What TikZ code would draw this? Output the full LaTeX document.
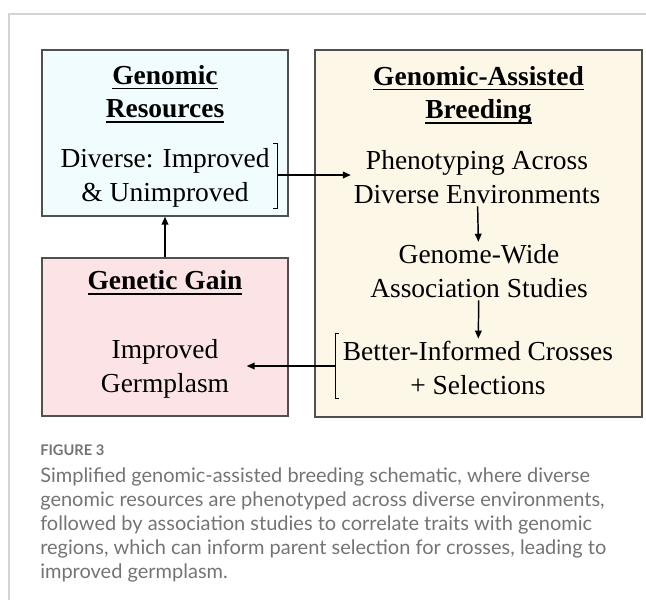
\documentclass[tikz,border=0pt]{standalone}
\usepackage{fontspec}
\setmainfont{Liberation Serif}
\newfontfamily\capfont{Lato}
\usetikzlibrary{arrows.meta, positioning, calc}
\definecolor{resfill} {HTML}{F0FCFD}
\definecolor{gabfill} {HTML}{FDF7E7}
\definecolor{gainfill}{HTML}{FCE4E6}
\definecolor{edge}    {HTML}{505050}
\definecolor{frame}   {HTML}{D4D4D4}
\definecolor{captext} {HTML}{747474}
% underline at a fixed depth, descenders pass through it
\newcommand{\ulword}[1]{\leavevmode\vtop{\hbox{\smash{#1}\vphantom{Ad}}\kern2.4pt\hrule height 1.2pt}}

\tikzset{
  panel/.style={draw=edge, line width=0.9pt, inner sep=0pt},
  boxtext/.style={align=center, inner sep=2pt, font=\fontsize{20.6}{25}\selectfont},
  headtext/.style={boxtext, font=\fontsize{20.6}{25}\selectfont\bfseries},
  flow/.style={-{Triangle[length=6pt,width=5pt]}, line width=1.1pt},
  bracket/.style={line width=0.6pt},
  caption/.style={text=captext, inner sep=0pt, align=left}
}

\begin{document}
\begin{tikzpicture}[x=0.75pt, y=-0.75pt]
  \useasboundingbox (0,0) rectangle (646,600);
  \draw[frame, line width=1.1pt] (9,600) -- (9,14) -- (646,14);

  % the three panels
  \node[panel, fill=resfill, minimum width=184.5pt, minimum height=124.5pt] (res) at (165,133) {};
  \node[panel, fill=gainfill, minimum width=184.5pt, minimum height=118.5pt] (gain) at (165,337) {};
  \node[panel, fill=gabfill, minimum width=245.25pt, minimum height=275.25pt] (gab) at (478.5,233.5) {};

  \node[headtext] (reshead) at (165,94) {\ulword{Genomic}\\\ulword{Resources}};
  \node[boxtext] (div) at (165,178) {Diverse: Improved\\\& Unimproved};

  \node[headtext] (gabhead) at (478.5,95) {\ulword{Genomic-Assisted}\\\ulword{Breeding}};
  \node[boxtext] (phen) at (477,177) {Phenotyping Across\\Diverse Environments};
  \node[boxtext] (gwas) at (479,271) {Genome-Wide\\Association Studies};
  \node[boxtext] (cross) at (478,368) {Better-Informed Crosses\\+ Selections};

  \node[headtext] (gainhead) at (165,283) {\ulword{Genetic Gain}};
  \node[boxtext] (germ) at (165,369) {Improved\\Germplasm};

  % brackets and connectors
  \coordinate (divbr) at (277,175);
  \draw[bracket] ($(divbr)+(-4,-32)$) -- ++(4,0) -- ++(0,65) -- ++(-4,0);
  \draw[flow] (divbr) -- (divbr -| phen.west);

  \coordinate (crossbr) at (335,366);
  \draw[bracket] ($(crossbr)+(4,-33)$) -- ++(-4,0) -- ++(0,65) -- ++(4,0);
  \draw[flow, shorten >=11pt] (crossbr) -- (crossbr -| germ.east);

  \draw[flow] (phen) -- (gwas);
  \draw[flow] (gwas) -- (cross);
  \draw[flow] (gain) -- (res);

  % caption
  \node[caption, anchor=base west, font=\capfont\fontsize{11}{12}\selectfont\bfseries] (figlab) at (40,455) {FIGURE 3};
  \node[caption, anchor=north west, font=\capfont\fontsize{15}{18}\selectfont] (captxt) at (40,467)
    {Simplified genomic-assisted breeding schematic, where diverse\\
     genomic resources are phenotyped across diverse environments,\\
     followed by association studies to correlate traits with genomic\\
     regions, which can inform parent selection for crosses, leading to\\
     improved germplasm.};
\end{tikzpicture}
\end{document}
